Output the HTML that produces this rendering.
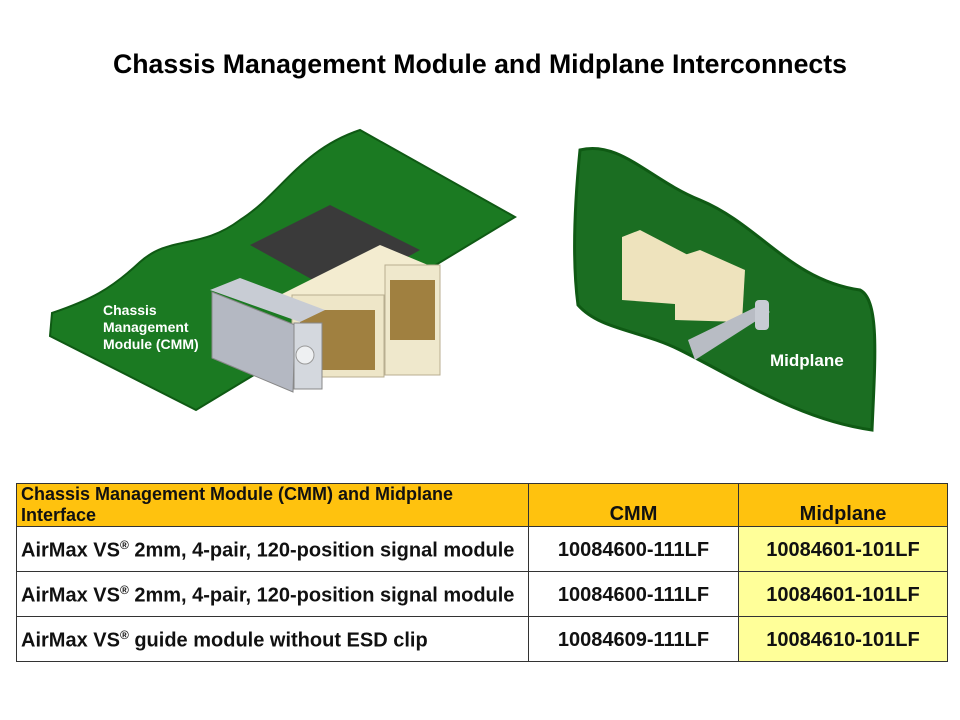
<!DOCTYPE html>
<html><head><meta charset="utf-8"><style>
body{margin:0;background:#fff;width:960px;height:720px;position:relative;overflow:hidden;font-family:"Liberation Sans",Arial,sans-serif}
h1{position:absolute;left:0;width:960px;top:49px;margin:0;text-align:center;font-size:26.7px;font-weight:bold;color:#000}
table{position:absolute;left:16px;top:483px;border-collapse:collapse;width:932px;font-family:"Liberation Sans",sans-serif;font-weight:bold;font-size:20px;color:#111;table-layout:fixed}
td{border:1.5px solid #333;padding:0 4px;white-space:nowrap;overflow:hidden}
tr.h td{background:#ffc20e;height:42px}
tr.r td{height:42px;padding-top:2px}
.c{text-align:center}
.y{background:#ffff99}
sup{font-size:12px}
</style></head><body>
<h1>Chassis Management Module and Midplane Interconnects</h1>
<svg width="960" height="460" style="position:absolute;left:0;top:0">
<path d="M52,313 C90,300 110,290 140,262 C170,235 200,250 240,220 C280,195 300,150 360,130 L515,217 L196,410 L50,336 Z" fill="#1b7a22" stroke="#0f5a14" stroke-width="2"/>
<polygon points="250,245 330,205 420,250 340,295" fill="#3a3a3a"/>
<polygon points="270,300 380,245 440,270 330,325" fill="#f3ecd0"/>
<rect x="292" y="295" width="92" height="82" fill="#eee6c8" stroke="#b8ae90"/>
<rect x="385" y="265" width="55" height="110" fill="#efe8cc" stroke="#b8ae90"/>
<rect x="300" y="310" width="75" height="60" fill="#a08040"/>
<rect x="390" y="280" width="45" height="60" fill="#a08040"/>
<polygon points="210,290 240,278 325,310 300,322" fill="#c8ccd4"/>
<polygon points="212,292 295,325 293,392 212,358" fill="#b4b8c2" stroke="#888"/>
<rect x="294" y="323" width="28" height="66" fill="#d4d8de" stroke="#888"/>
<circle cx="305" cy="355" r="9" fill="#eef0f2" stroke="#999"/>
<path d="M580,150 C620,140 650,180 700,200 C760,225 790,280 860,290 C880,300 875,360 872,430 C800,420 740,380 680,350 C640,330 600,330 578,305 C572,260 575,200 580,150 Z" fill="#1b6e22" stroke="#0f5a14" stroke-width="3"/>
<polygon points="622,237 640,230 688,255 688,305 622,300" fill="#eee3bd"/>
<polygon points="675,258 700,250 745,270 742,322 675,320" fill="#eee3bd"/>
<polygon points="688,340 760,305 770,312 695,360" fill="#b8bcc4"/>
<rect x="755" y="300" width="14" height="30" rx="4" fill="#c8ccd4"/>
</svg>
<div style="position:absolute;left:103px;top:302px;color:#fff;font-weight:bold;font-size:14px;line-height:17px">Chassis<br>Management<br>Module (CMM)</div>
<div style="position:absolute;left:770px;top:351px;color:#fff;font-weight:bold;font-size:17px">Midplane</div>
<table>
<colgroup><col style="width:512px"><col style="width:210px"><col></colgroup>
<tr class="h"><td style="vertical-align:top;line-height:21px;white-space:normal;font-size:18px">Chassis Management Module (CMM) and Midplane Interface</td><td class="c" style="vertical-align:bottom">CMM</td><td class="c" style="vertical-align:bottom">Midplane</td></tr>
<tr class="r"><td>AirMax VS<sup>®</sup> 2mm, 4-pair, 120-position signal module</td><td class="c">10084600-111LF</td><td class="c y">10084601-101LF</td></tr>
<tr class="r"><td>AirMax VS<sup>®</sup> 2mm, 4-pair, 120-position signal module</td><td class="c">10084600-111LF</td><td class="c y">10084601-101LF</td></tr>
<tr class="r"><td>AirMax VS<sup>®</sup> guide module without ESD clip</td><td class="c">10084609-111LF</td><td class="c y">10084610-101LF</td></tr>
</table>
</body></html>
